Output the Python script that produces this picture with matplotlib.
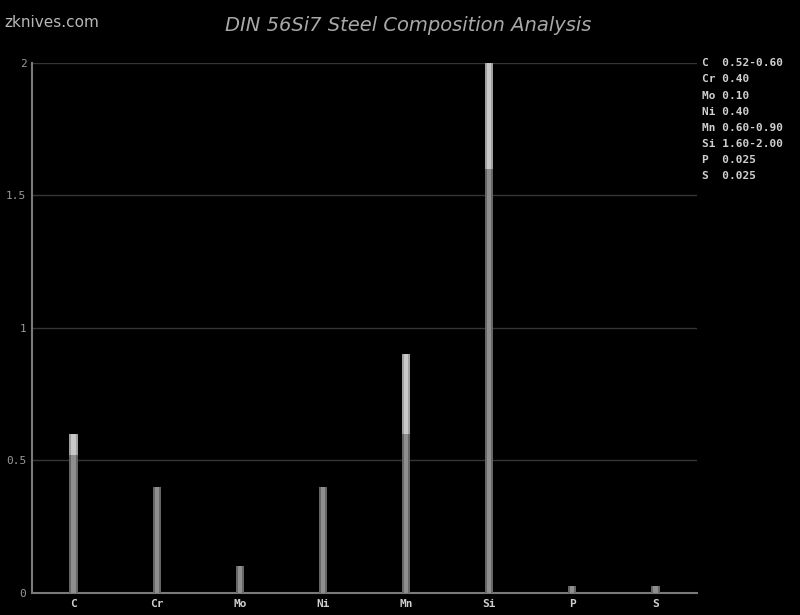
"""DIN 56Si7 steel composition chart (dark style, min/max stacked bars)."""
import numpy as np
import matplotlib
matplotlib.use('Agg')
import matplotlib.pyplot as plt

# element composition in %, min and max
elements = ["C", "Cr", "Mo", "Ni", "Mn", "Si", "P", "S"]
comp_min = [0.52, 0.40, 0.10, 0.40, 0.60, 1.60, 0.025, 0.025]
comp_max = [0.60, 0.40, 0.10, 0.40, 0.90, 2.00, 0.025, 0.025]
legend_txt = ["C  0.52-0.60", "Cr 0.40", "Mo 0.10", "Ni 0.40",
              "Mn 0.60-0.90", "Si 1.60-2.00", "P  0.025", "S  0.025"]
y_ticks = [0, 0.5, 1, 1.5, 2]
y_ticklabels = ["0", "0.5", "1", "1.5", "2"]

fig = plt.figure(figsize=(8, 6.15), dpi=100, facecolor='black')
ax = fig.add_axes([0.04, 0.0358, 0.83125, 0.8618], facecolor='black')

x = np.arange(len(elements))
lo = np.array(comp_min)
rng = np.array(comp_max) - lo
w = 0.1

# base part (min value), with a lighter centre stripe for the cylinder look
ax.bar(x, lo, w, color='#666666', zorder=3)
ax.bar(x, lo, w * 0.5, color='#8e8e8e', zorder=4)
# range part (min -> max)
ax.bar(x, rng, w, bottom=lo, color='#a0a0a0', zorder=3)
ax.bar(x, rng, w * 0.5, bottom=lo, color='#c8c8c8', zorder=4)

ax.set_xlim(-0.5, len(elements) - 0.5)
ax.set_ylim(0, 2)
ax.set_xticks(x)
ax.set_xticklabels(elements, family='DejaVu Sans Mono', fontsize=8,
                   color='#cfcfcf', fontweight='bold')
ax.set_yticks(y_ticks)
ax.set_yticklabels(y_ticklabels, family='DejaVu Sans Mono', fontsize=8,
                   color='#9a9a9a')
ax.tick_params(length=0, pad=4)

ax.grid(axis='y', color='#353535', linewidth=1, zorder=0)
for s in ['top', 'right']:
    ax.spines[s].set_visible(False)
for s in ['left', 'bottom']:
    ax.spines[s].set_color('#7a7a7a')
    ax.spines[s].set_linewidth(1.5)

fig.text(0.51, 0.958, "DIN 56Si7 Steel Composition Analysis", ha='center',
         va='center', fontsize=14, style='italic', color='#a8a8a8')
fig.text(0.005, 0.963, "zknives.com", ha='left', va='center', fontsize=11,
         color='#b8b8b8')

for i, t in enumerate(legend_txt):
    fig.text(0.878, 0.897 - i * 0.0262, t, ha='left', va='center',
             family='DejaVu Sans Mono', fontsize=8, color='#cfcfcf',
             fontweight='bold')

plt.savefig('out.png', dpi=100, facecolor='black')
